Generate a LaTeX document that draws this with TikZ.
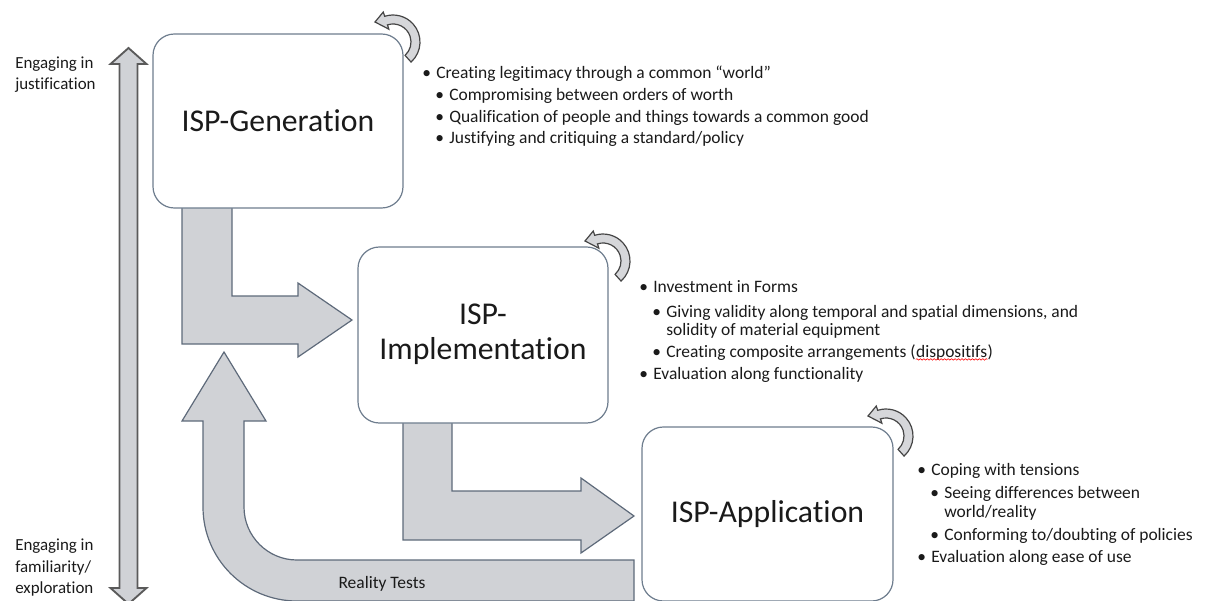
\documentclass[tikz,border=0pt]{standalone}
\usepackage{fontspec}
\setmainfont{Carlito}[Ligatures={NoCommon}]
\usetikzlibrary{decorations.pathmorphing}

\definecolor{bandfill}{HTML}{D0D2D6}
\definecolor{bandline}{HTML}{5E6A7A}
\definecolor{boxline}{HTML}{6E7D8E}
\definecolor{axisline}{HTML}{5A5A5A}
\definecolor{loopline}{HTML}{454545}
\definecolor{loopfill}{HTML}{D6D7DA}
\definecolor{txt}{HTML}{1A1A1A}

\tikzset{
  band/.style={fill=bandfill, draw=bandline, line width=0.9pt, line join=miter},
  axisarrow/.style={fill=bandfill, draw=axisline, line width=1.4pt, line join=miter},
  stage/.style={draw=boxline, line width=0.9pt, fill=white, rounded corners=16pt,
    font=\fontsize{23.8}{26.25}\selectfont, align=center, text=txt, inner sep=0pt},
  label/.style={anchor=base west, inner sep=0pt, font=\fontsize{12.7}{15}\selectfont, text=txt},
  line/.style={anchor=base west, inner sep=0pt, font=\fontsize{13.1}{15}\selectfont, text=txt},
  twist/.style={fill=loopfill, draw=loopline, line width=0.9pt, line join=miter},
  spell/.style={draw=red, line width=0.45pt, decorate,
    decoration={snake, amplitude=0.55pt, segment length=2.6pt}},
}

% bullet with its gap to the text
\newcommand\bul{\makebox[10.5pt][l]{\textbullet}}

% curved "repeat" arrow, drawn around a centre point
\newcommand\turnarrow[1]{%
  \begin{scope}[shift={#1}]
    \begin{scope}[y=0.75pt]
      \path[twist] (-48:27) arc[start angle=-48, end angle=108, radius=27]
        -- (108:31.5) -- (-18,20) -- (108:13.5) -- (108:18)
        arc[start angle=108, end angle=-48, radius=18] -- cycle;
    \end{scope}
  \end{scope}}

\begin{document}
\begin{tikzpicture}[x=0.75pt, y=-0.75pt]
\useasboundingbox (0,0) rectangle (1205,600);
\clip (0,0) rectangle (1205,600);

% vertical scale on the left
\path[axisarrow] (128.5,48) -- (146.5,64) -- (137.5,64) -- (137.5,588) -- (146.5,588)
  -- (128.5,604) -- (110.5,588) -- (119.5,588) -- (119.5,64) -- (110.5,64) -- cycle;
\node[label] (topA) at (15,68) {Engaging in};
\node[label] (topB) at (15,89) {justification};
\node[label] (botA) at (15,550) {Engaging in};
\node[label] (botB) at (15,572) {familiarity/};
\node[label] (botC) at (15,593) {exploration};

% bent arrows between the stages
\path[band] (182,206) -- (232,206) -- (232,296) -- (298,296) -- (298,283) -- (352,320)
  -- (298,357) -- (298,344) -- (182,344) -- cycle;
\path[band] (403,421) -- (452,421) -- (452,491) -- (581,491) -- (581,478) -- (634,516)
  -- (581,553) -- (581,540) -- (403,540) -- cycle;

% feedback arrow: reality tests
\path[band] (224,352) -- (266,421) -- (244,421) -- (244,507)
  arc[start angle=180, end angle=90, radius=53] -- (634,560) -- (634,601) -- (297,601)
  arc[start angle=90, end angle=180, radius=94] -- (203,421) -- (182,421) -- cycle;
\node[line, anchor=base] (rt) at (382,588) {Reality Tests};

% stages
\node[stage, minimum width=187.5pt, minimum height=130.5pt] (gen) at (278,121) {ISP-Generation};
\node[stage, minimum width=187.5pt, minimum height=132pt] (imp) at (483,335)
  {\raisebox{0pt}[0pt][0pt]{}ISP-\\Implementation\rule[-5pt]{0pt}{0pt}};
\node[stage, minimum width=188.25pt, minimum height=130.5pt] (app) at (767.5,514) {ISP-Application};

\turnarrow{(393,42)}
\turnarrow{(603,261)}
\turnarrow{(886,436)}

% generation
\node[line] (g1) at (422,78) {\bul Creating legitimacy through a common “world”};
\node[line] (g2) at (435,100) {\bul Compromising between orders of worth};
\node[line] (g3) at (435,122) {\bul Qualification of people and things towards a common good};
\node[line] (g4) at (435,143) {\bul Justifying and critiquing a standard/policy};

% implementation
\node[line] (i1) at (639,292) {\bul Investment in Forms};
\node[line] (i2) at (652,317) {\bul Giving validity along temporal and spatial dimensions, and};
\node[line] (i3) at (666,335) {solidity of material equipment};
\node[line] (i4) at (652,357) {\bul Creating composite arrangements (};
\node[line] (i4w) at (i4.base east) {dispositifs};
\node[line] (i4e) at (i4w.base east) {)};
\draw[spell] ([yshift=-1.8pt]i4w.base west) -- ([yshift=-1.8pt]i4w.base east);
\node[line] (i5) at (639,379) {\bul Evaluation along functionality};

% application
\node[line] (a1) at (917,475) {\bul Coping with tensions};
\node[line] (a2) at (930,498) {\bul Seeing differences between};
\node[line] (a3) at (944,517) {world/reality};
\node[line] (a4) at (930,540) {\bul Conforming to/doubting of policies};
\node[line] (a5) at (917,562) {\bul Evaluation along ease of use};
\end{tikzpicture}
\end{document}
